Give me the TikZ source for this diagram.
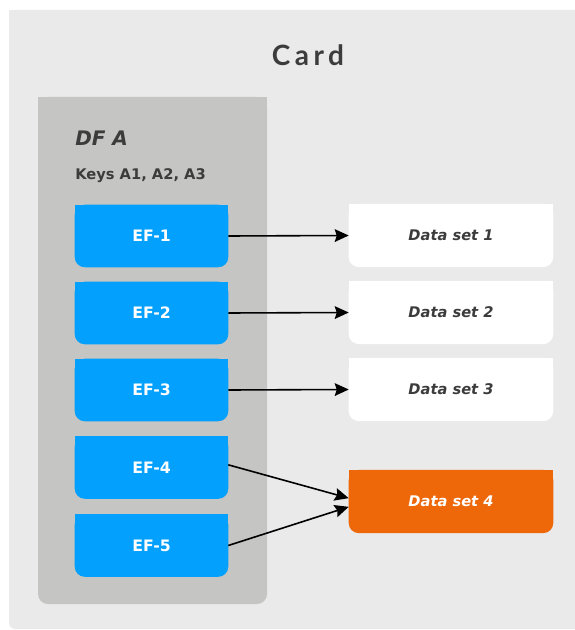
\documentclass[tikz,border=0pt]{standalone}
\usepackage{fontspec}
\setmainfont{DejaVu Sans}
\newfontfamily\cardfont{Lato}[LetterSpace=16]
\usetikzlibrary{arrows.meta,backgrounds}

\definecolor{cardbg}{HTML}{EAEAEA}
\definecolor{dfbg}{HTML}{C5C5C3}
\definecolor{efblue}{HTML}{03A0FE}
\definecolor{dsorange}{HTML}{EE6709}
\definecolor{ink}{HTML}{3C3C3C}

\begin{document}
\begin{tikzpicture}[x=0.75pt,y=-0.75pt,
  efbox/.style={minimum width=114.75pt, minimum height=46.5pt, inner sep=0pt,
    text=white, font=\bfseries\fontsize{11.8}{14}\selectfont},
  dsbox/.style={minimum width=153pt, minimum height=47pt, inner sep=0pt,
    text=ink, font=\bfseries\itshape\fontsize{11}{13}\selectfont},
  link/.style={-{Stealth[length=10.5pt,width=9.5pt,inset=1.5pt]}, line width=1.2pt, black}]

\useasboundingbox (0,0) rectangle (574,630);

% titles
\node[text=ink, font=\cardfont\bfseries\fontsize{21}{25}\selectfont] (card) at (308,55) {Card};
\node[text=ink, anchor=base west, inner sep=0pt, font=\bfseries\itshape\fontsize{15}{18}\selectfont] (dfa) at (75,146) {DF A};
\node[text=ink, anchor=base west, inner sep=0pt, font=\bfseries\fontsize{11}{13}\selectfont] (keys) at (75,180) {Keys A1, A2, A3};

% elementary files
\node[efbox] (ef1) at (151.5,236) {EF-1};
\node[efbox] (ef2) at (151.5,313) {EF-2};
\node[efbox] (ef3) at (151.5,390) {EF-3};
\node[efbox] (ef4) at (151.5,467.5) {EF-4};
\node[efbox] (ef5) at (151.5,545.5) {EF-5};

% data sets
\node[dsbox] (ds1) at (451,235.5) {Data set 1};
\node[dsbox] (ds2) at (451,312.5) {Data set 2};
\node[dsbox] (ds3) at (451,389.5) {Data set 3};
\node[dsbox, text=white] (ds4) at (451,501.5) {Data set 4};

% links
\draw[link] (ef1.east) -- (ds1.west);
\draw[link] (ef2.east) -- (ds2.west);
\draw[link] (ef3.east) -- (ds3.west);
\draw[link] ([yshift=2pt]ef4.east) -- ([yshift=2.5pt]ds4.west);
\draw[link] (ef5.east) -- ([yshift=-4pt]ds4.west);

% panels and box fills
\begin{scope}[on background layer]
  \fill[cardbg, rounded corners=4.5pt] (9,10) rectangle (590,629);
  \fill[cardbg] (9,10) rectangle (590,560);
  \fill[dfbg, rounded corners=7.5pt] (38,97) rectangle (267,604);
  \fill[dfbg] (38,97) rectangle (267,500);
  \foreach \n/\c in {ef1/efblue,ef2/efblue,ef3/efblue,ef4/efblue,ef5/efblue,
                     ds1/white,ds2/white,ds3/white,ds4/dsorange} {
    \fill[\c, rounded corners=7.5pt] (\n.north west) rectangle (\n.south east);
    \fill[\c] (\n.north west) rectangle (\n.east);
  }
\end{scope}
\end{tikzpicture}
\end{document}
